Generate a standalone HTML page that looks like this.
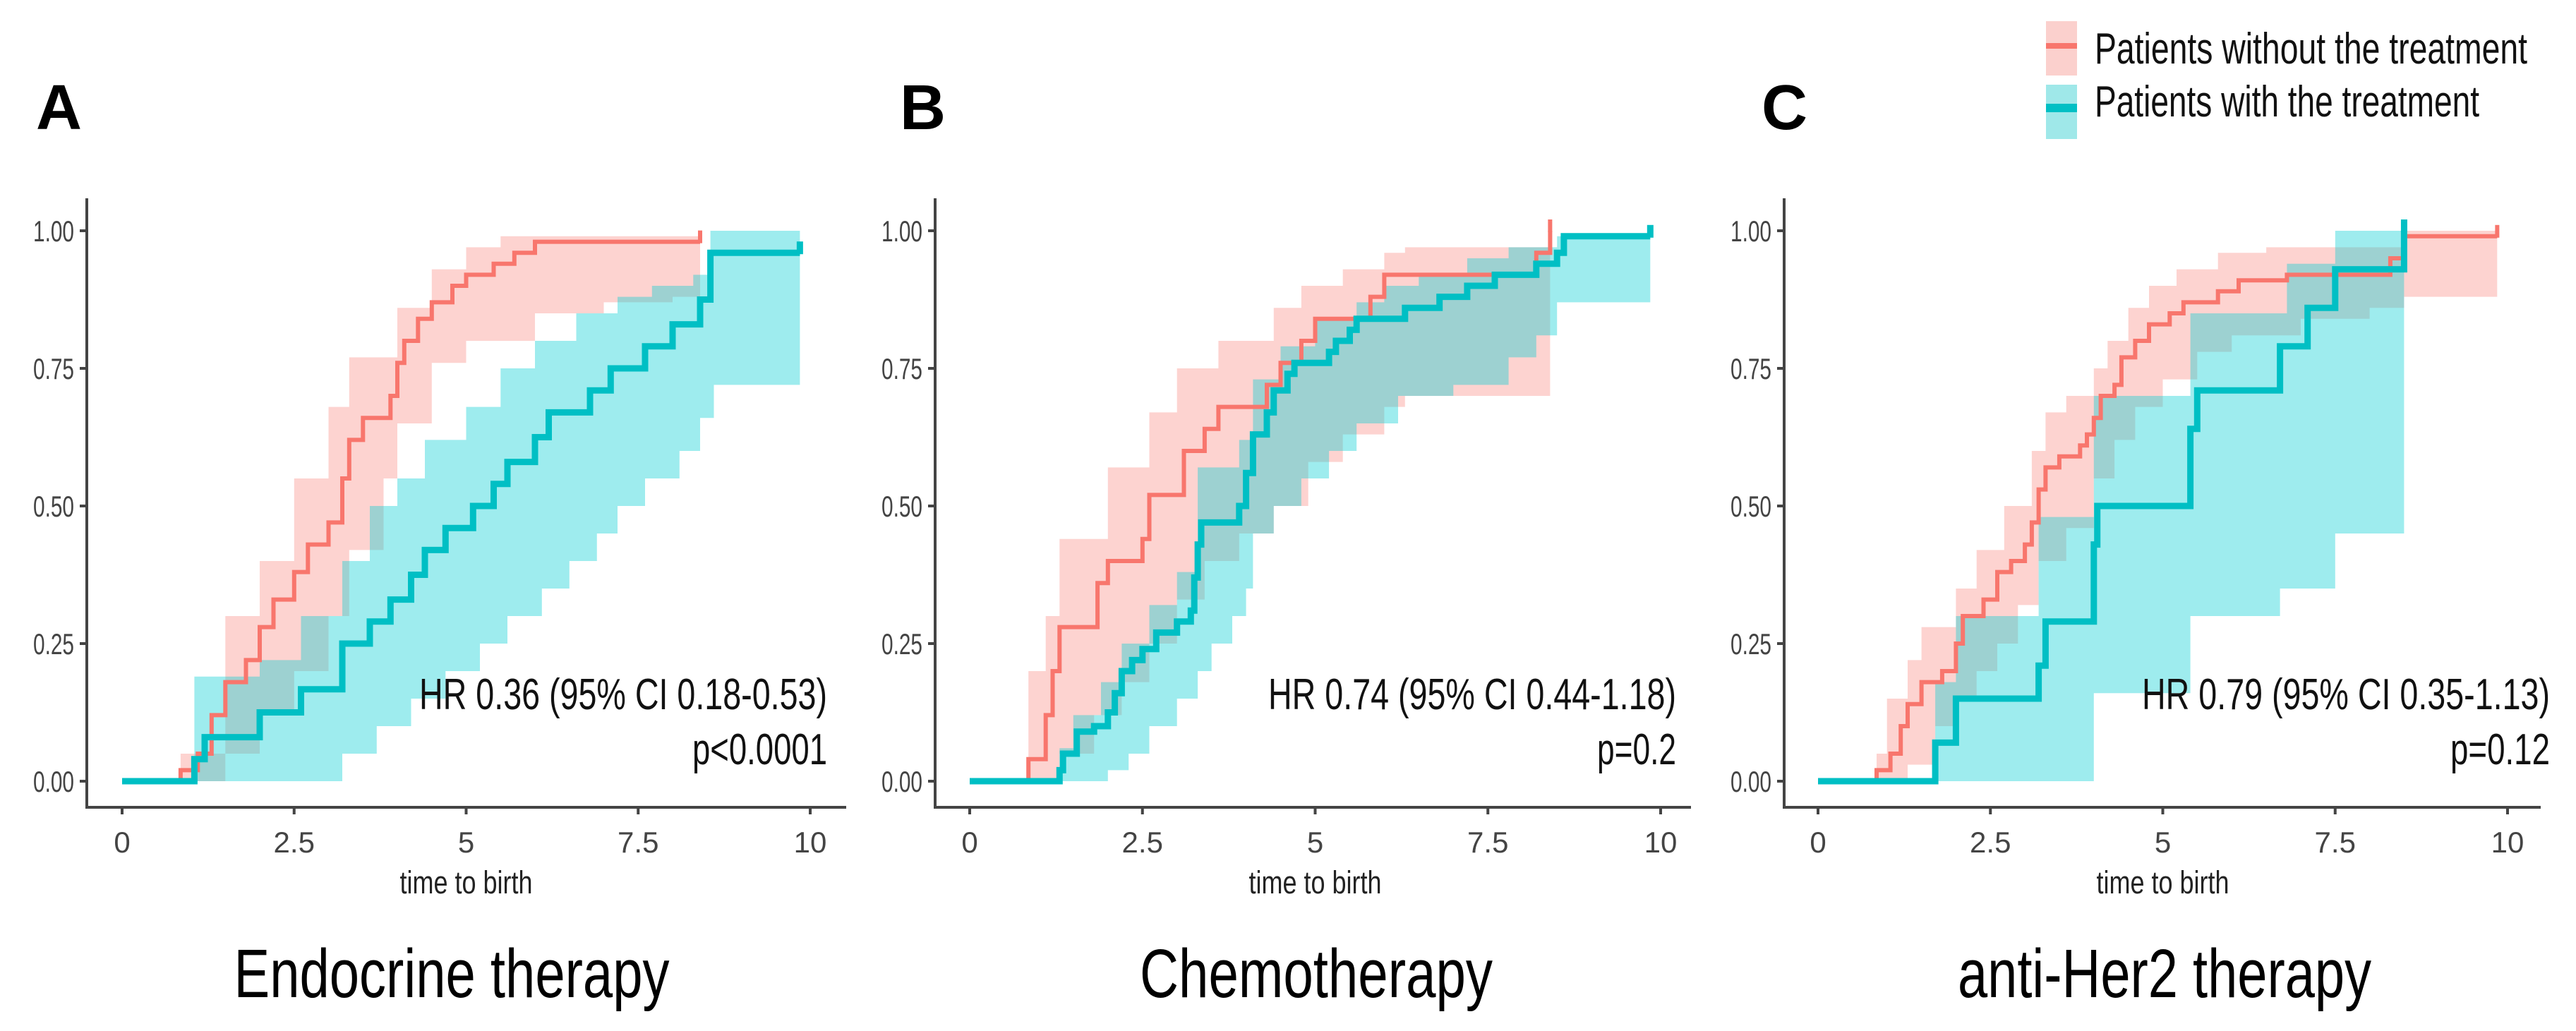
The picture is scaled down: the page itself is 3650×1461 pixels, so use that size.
<!DOCTYPE html>
<html><head><meta charset="utf-8">
<style>
html,body{margin:0;padding:0;background:#fff;}
svg{display:block;font-family:"Liberation Sans",sans-serif;}
</style></head>
<body>
<svg id="chart" width="3650" height="1461" viewBox="0 0 3650 1461" xmlns="http://www.w3.org/2000/svg">
<rect width="3650" height="1461" fill="#fff"/>
<g>
  <rect x="2899" y="30" width="44" height="77" fill="#fbd0cd"/>
  <line x1="2899" y1="65" x2="2943" y2="65" stroke="#F8766D" stroke-width="8"/>
  <rect x="2899" y="120" width="44" height="77" fill="#9fe8e9"/>
  <line x1="2899" y1="153" x2="2943" y2="153" stroke="#00BFC4" stroke-width="12"/>
  <text x="2968" y="90" font-size="62" textLength="613" lengthAdjust="spacingAndGlyphs" fill="#111">Patients without the treatment</text>
  <text x="2968" y="165" font-size="62" textLength="545" lengthAdjust="spacingAndGlyphs" fill="#111">Patients with the treatment</text>
</g>
</svg>
<script>
// ---------- data ----------
const xTicks = [0, 2.5, 5, 7.5, 10];
const xTickLabels = ["0", "2.5", "5", "7.5", "10"];
const yTicks = [0, 0.25, 0.5, 0.75, 1];
const yTickLabels = ["0.00", "0.25", "0.50", "0.75", "1.00"];
const panelLetters = ["A", "B", "C"];
const panelTitles = ["Endocrine therapy", "Chemotherapy", "anti-Her2 therapy"];
const hrLabels = ["HR 0.36 (95% CI 0.18-0.53)", "HR 0.74 (95% CI 0.44-1.18)", "HR 0.79 (95% CI 0.35-1.13)"];
const pLabels = ["p<0.0001", "p=0.2", "p=0.12"];

// Panel A
const aRedT = [0.85,1.1,1.3,1.5,1.8,2.0,2.2,2.5,2.7,3.0,3.2,3.3,3.5,3.9,4.0,4.1,4.3,4.5,4.8,5.0,5.4,5.7,6.0];
const aRedV = [0.02,0.05,0.12,0.18,0.22,0.28,0.33,0.38,0.43,0.47,0.55,0.62,0.66,0.70,0.76,0.80,0.84,0.87,0.90,0.92,0.94,0.96,0.98];
const aRedEnd = 8.4;
const aRedLoT = [1.0,1.5,2.0,2.5,3.0,3.3,3.8,4.0,4.5,5.0,6.0,7.0,8.0];
const aRedLoV = [0.0,0.05,0.12,0.20,0.30,0.42,0.55,0.65,0.76,0.80,0.85,0.87,0.88];
const aRedHiT = [0.85,1.5,2.0,2.5,3.0,3.3,4.0,4.5,5.0,5.5];
const aRedHiV = [0.05,0.30,0.40,0.55,0.68,0.77,0.86,0.93,0.97,0.99];
const aTealT = [1.05,1.2,2.0,2.6,3.2,3.6,3.9,4.2,4.4,4.7,5.1,5.4,5.6,6.0,6.2,6.8,7.1,7.6,8.0,8.4,8.55];
const aTealV = [0.04,0.08,0.125,0.167,0.25,0.29,0.33,0.375,0.42,0.46,0.50,0.54,0.58,0.625,0.67,0.71,0.75,0.79,0.83,0.875,0.96];
const aTealEnd = 9.85;
const aTealLoT = [3.2,3.7,4.2,4.7,5.2,5.6,6.1,6.5,6.9,7.2,7.6,8.1,8.4,8.6];
const aTealLoV = [0.05,0.10,0.15,0.20,0.25,0.30,0.35,0.40,0.45,0.50,0.55,0.60,0.66,0.72];
const aTealHiT = [1.05,2.0,2.6,3.2,3.6,4.0,4.4,5.0,5.5,6.0,6.6,7.2,7.7,8.3,8.55];
const aTealHiV = [0.19,0.22,0.30,0.40,0.50,0.55,0.62,0.68,0.75,0.80,0.85,0.88,0.90,0.92,1.0];

// Panel B
const bRedT = [0.85,1.1,1.2,1.3,1.85,2.0,2.5,2.6,3.1,3.4,3.6,4.3,4.5,4.8,5.0,5.8,6.0,8.2,8.4];
const bRedV = [0.04,0.12,0.20,0.28,0.36,0.40,0.44,0.52,0.60,0.64,0.68,0.72,0.76,0.80,0.84,0.88,0.92,0.96,1.0];
const bRedEnd = 8.4;
const bRedLoT = [1.3,1.8,2.2,2.6,3.0,3.4,3.9,4.4,4.9,5.4,6.0,6.3];
const bRedLoV = [0.05,0.12,0.18,0.25,0.33,0.40,0.45,0.50,0.58,0.63,0.68,0.70];
const bRedHiT = [0.85,1.1,1.3,2.0,2.6,3.0,3.6,4.4,4.8,5.4,6.0,6.3];
const bRedHiV = [0.20,0.30,0.44,0.57,0.67,0.75,0.80,0.86,0.90,0.93,0.96,0.97];
const bTealT = [1.3,1.35,1.55,1.8,2.0,2.1,2.2,2.35,2.5,2.7,3.0,3.2,3.25,3.3,3.35,3.9,4.0,4.1,4.3,4.4,4.6,4.7,5.2,5.3,5.5,5.6,6.3,6.8,7.2,7.6,8.2,8.5,8.6];
const bTealV = [0.02,0.05,0.09,0.10,0.125,0.16,0.20,0.22,0.24,0.27,0.29,0.31,0.37,0.43,0.47,0.50,0.56,0.63,0.67,0.71,0.74,0.76,0.78,0.80,0.82,0.84,0.86,0.88,0.90,0.92,0.94,0.96,0.99];
const bTealEnd = 9.85;
const bTealLoT = [2.0,2.3,2.6,3.0,3.3,3.5,3.8,4.0,4.1,4.4,4.8,5.2,5.6,6.2,7.0,7.8,8.2,8.5];
const bTealLoV = [0.02,0.05,0.10,0.15,0.20,0.25,0.30,0.35,0.45,0.50,0.55,0.60,0.65,0.70,0.72,0.77,0.81,0.87];
const bTealHiT = [1.3,1.5,1.9,2.2,2.6,3.0,3.3,3.9,4.1,4.5,5.0,5.6,6.0,6.5,7.2,7.8,8.5];
const bTealHiV = [0.06,0.12,0.18,0.25,0.32,0.38,0.57,0.62,0.73,0.79,0.84,0.87,0.90,0.92,0.95,0.97,0.99];

// Panel C
const cRedT = [0.85,1.05,1.2,1.3,1.5,1.8,2.0,2.1,2.4,2.6,2.8,3.0,3.1,3.2,3.3,3.5,3.8,3.9,4.0,4.1,4.3,4.4,4.6,4.8,5.1,5.3,5.8,6.1,6.8,8.3,8.5];
const cRedV = [0.02,0.05,0.10,0.14,0.18,0.20,0.25,0.30,0.33,0.38,0.40,0.43,0.47,0.53,0.57,0.59,0.61,0.63,0.66,0.70,0.72,0.77,0.80,0.83,0.85,0.87,0.89,0.91,0.92,0.95,0.99];
const cRedEnd = 9.85;
const cRedLoT = [1.3,1.7,2.0,2.3,2.6,2.9,3.2,3.6,4.0,4.3,4.6,5.0,5.5,6.0,7.0,8.0,8.5];
const cRedLoV = [0.03,0.10,0.15,0.20,0.25,0.32,0.40,0.46,0.55,0.62,0.68,0.73,0.78,0.81,0.84,0.86,0.88];
const cRedHiT = [0.85,1.0,1.3,1.5,2.0,2.3,2.7,3.1,3.3,3.6,4.0,4.2,4.5,4.8,5.2,5.8,6.5,8.5];
const cRedHiV = [0.05,0.15,0.22,0.28,0.35,0.42,0.50,0.60,0.67,0.70,0.75,0.80,0.86,0.90,0.93,0.96,0.97,1.0];
const cTealT = [1.7,2.0,3.2,3.3,4.0,4.05,5.4,5.5,6.7,7.1,7.5,8.5];
const cTealV = [0.07,0.15,0.21,0.29,0.43,0.50,0.64,0.71,0.79,0.86,0.93,1.0];
const cTealEnd = 8.5;
const cTealLoT = [4.0,5.4,6.7,7.5];
const cTealLoV = [0.16,0.30,0.35,0.45];
const cTealHiT = [1.7,2.0,3.2,4.0,5.4,6.8,7.5];
const cTealHiV = [0.18,0.30,0.48,0.70,0.85,0.94,1.0];

const panels = [
 {ax:123, x0:173, x10:1148, right:1199, lx:51, tx:640, tw:617, hrx:1172, pw:191,
  red:[aRedT,aRedV,aRedEnd,aRedLoT,aRedLoV,aRedHiT,aRedHiV],
  teal:[aTealT,aTealV,aTealEnd,aTealLoT,aTealLoV,aTealHiT,aTealHiV]},
 {ax:1325, x0:1374, x10:2353, right:2396, lx:1275, tx:1865, tw:500, hrx:2375, pw:112,
  red:[bRedT,bRedV,bRedEnd,bRedLoT,bRedLoV,bRedHiT,bRedHiV],
  teal:[bTealT,bTealV,bTealEnd,bTealLoT,bTealLoV,bTealHiT,bTealHiV]},
 {ax:2528, x0:2576, x10:3553, right:3600, lx:2496, tx:3067, tw:586, hrx:3613, pw:141,
  red:[cRedT,cRedV,cRedEnd,cRedLoT,cRedLoV,cRedHiT,cRedHiV],
  teal:[cTealT,cTealV,cTealEnd,cTealLoT,cTealLoV,cTealHiT,cTealHiV]}
];

// ---------- drawing ----------
const NS = "http://www.w3.org/2000/svg";
const svg = document.getElementById("chart");
const Y0 = 1107, YSPAN = 780, AXB = 1144, AXT = 281;
function yS(v){ return Y0 - v*YSPAN; }
function mk(tag, attrs, parent){
  const e = document.createElementNS(NS, tag);
  for (const k in attrs) e.setAttribute(k, attrs[k]);
  (parent||svg).appendChild(e);
  return e;
}
function stepPts(T, V, startT, endT, xS){
  const pts = [[xS(startT), yS(0)]];
  let cur = 0;
  for (let i=0;i<T.length;i++){
    pts.push([xS(T[i]), yS(cur)]);
    cur = V[i];
    pts.push([xS(T[i]), yS(cur)]);
  }
  pts.push([xS(endT), yS(cur)]);
  return pts;
}
function bandPath(loT, loV, hiT, hiV, startT, endT, xS){
  const up = stepPts(hiT, hiV, startT, endT, xS);
  const lo = stepPts(loT, loV, startT, endT, xS).reverse();
  return "M" + up.concat(lo).map(p=>p[0].toFixed(1)+","+p[1].toFixed(1)).join("L") + "Z";
}
function linePath(pts){ return "M" + pts.map(p=>p[0].toFixed(1)+","+p[1].toFixed(1)).join("L"); }

panels.forEach((P, pi) => {
  const g = mk("g", {});
  
  
  const xS = t => P.x0 + t*(P.x10-P.x0)/10;

  const letter = mk("text", {x:P.lx, y:183, "font-size":90, "font-weight":"bold", fill:"#000"}, g);
  letter.textContent = panelLetters[pi];
  
  

  const series = [[P.red, "rgba(248,118,109,0.32)", "#F8766D", 6, "without"], [P.teal, "rgba(0,205,210,0.38)", "#00BFC4", 9, "with"]];
  series.forEach(s => {
    const d = s[0];
    const startT = Math.min(d[3][0], d[5][0], d[0][0]);
    const b = mk("path", {d: bandPath(d[3], d[4], d[5], d[6], startT, d[2], xS), fill: s[1]}, g);
    
    
  });
  series.forEach(s => {
    const d = s[0];
    const pts = stepPts(d[0], d[1], 0, d[2], xS);
    const l = mk("path", {d: linePath(pts), fill:"none", stroke:s[2], "stroke-width":s[3]}, g);
    
    
    const last = d[1][d[1].length-1];
    const c = mk("line", {x1:xS(d[2]), x2:xS(d[2]), y1:yS(last)-16, y2:yS(last)+2, stroke:s[2], "stroke-width":s[3]}, g);
    
    
  });

  const ya = mk("line", {x1:P.ax, x2:P.ax, y1:AXT, y2:AXB, stroke:"#444", "stroke-width":4}, g);
  
  
  const xa = mk("line", {x1:P.ax-2, x2:P.right, y1:AXB, y2:AXB, stroke:"#444", "stroke-width":4}, g);
  
  
  yTicks.forEach((v, i) => {
    mk("line", {x1:P.ax-10, x2:P.ax, y1:yS(v), y2:yS(v), stroke:"#444", "stroke-width":4}, g);
    const t = mk("text", {x:P.ax-18, y:yS(v)+15, "font-size":42, "text-anchor":"end", fill:"#444", textLength:58, lengthAdjust:"spacingAndGlyphs"}, g);
    t.textContent = yTickLabels[i];
    
    
  });
  xTicks.forEach((v, i) => {
    mk("line", {x1:xS(v), x2:xS(v), y1:AXB, y2:AXB+10, stroke:"#444", "stroke-width":4}, g);
    const t = mk("text", {x:xS(v), y:1208, "font-size":42, "text-anchor":"middle", fill:"#444"}, g);
    t.textContent = xTickLabels[i];
    
    
  });
  const xt = mk("text", {x:(P.x0+P.x10)/2, y:1266, "font-size":45, "text-anchor":"middle", fill:"#222", textLength:188, lengthAdjust:"spacingAndGlyphs"}, g);
  xt.textContent = "time to birth";
  
  

  const hr = mk("text", {x:P.hrx, y:1005, "font-size":62, "text-anchor":"end", fill:"#111", textLength:578, lengthAdjust:"spacingAndGlyphs"}, g);
  hr.textContent = hrLabels[pi];
  
  
  const pv = mk("text", {x:P.hrx, y:1083, "font-size":62, "text-anchor":"end", fill:"#111", textLength:P.pw, lengthAdjust:"spacingAndGlyphs"}, g);
  pv.textContent = pLabels[pi];
  
  

  const tt = mk("text", {x:P.tx, y:1413, "font-size":97, "text-anchor":"middle", fill:"#000", textLength:P.tw, lengthAdjust:"spacingAndGlyphs"}, g);
  tt.textContent = panelTitles[pi];
  
  
});
</script>
</body></html>
